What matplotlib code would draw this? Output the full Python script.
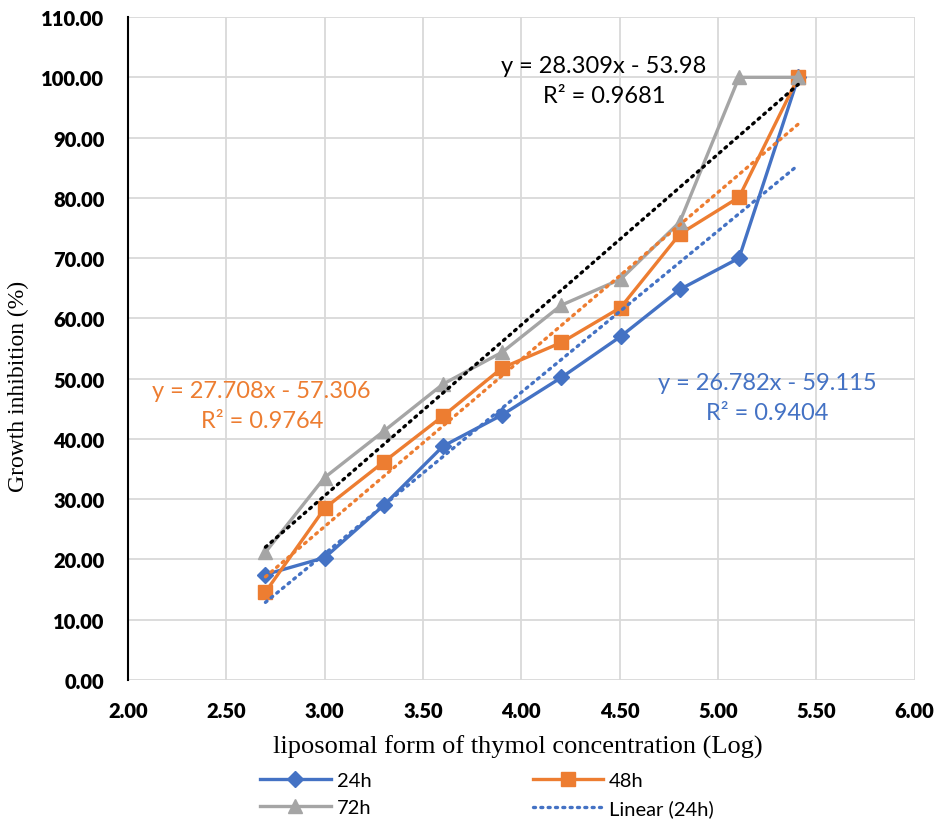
import matplotlib
matplotlib.use("Agg")
import matplotlib.pyplot as plt
from matplotlib.ticker import FormatStrFormatter
import numpy as np

# log concentration of liposomal thymol
log_conc = [2.699, 3.000, 3.301, 3.602, 3.903, 4.204, 4.505, 4.806, 5.107, 5.408]

inh_24h = [17.5, 20.3, 29.0, 38.8, 44.0, 50.2, 57.0, 64.8, 70.0, 100.0]
inh_48h = [14.6, 28.5, 36.2, 43.8, 51.8, 56.0, 61.8, 74.0, 80.1, 100.0]
inh_72h = [21.2, 33.6, 41.3, 49.1, 54.4, 62.2, 66.5, 76.0, 100.0, 100.0]

series_names = ['24h', '48h', '72h']
eq_texts = ['y = 26.782x - 59.115\nR² = 0.9404',
            'y = 27.708x - 57.306\nR² = 0.9764',
            'y = 28.309x - 53.98\nR² = 0.9681']

BLUE = '#4472C4'
ORANGE = '#ED7D31'
GREY = '#A5A5A5'

fig = plt.figure(figsize=(9.41, 8.2), dpi=100)
ax = fig.add_axes([0.136, 0.1695, 0.836, 0.8085])

x = np.array(log_conc)
series = [inh_24h, inh_48h, inh_72h]
colors = [BLUE, ORANGE, GREY]
markers = ['D', 's', '^']
msizes = [8.5, 10.5, 10.5]
trend_colors = [BLUE, ORANGE, 'black']

handles = []
for ys, c, m, ms, name in zip(series, colors, markers, msizes, series_names):
    h, = ax.plot(x, ys, color=c, lw=2.4, marker=m, ms=ms, label=name, zorder=3)
    handles.append(h)

trend_handles = []
for ys, tc, name in zip(series, trend_colors, series_names):
    k, b = np.polyfit(x, ys, 1)
    xx = np.array([x[0], x[-1]])
    h, = ax.plot(xx, k * xx + b, color=tc, lw=2.4, linestyle=(0, (0.6, 1.6)),
                 dash_capstyle='round', label=f'Linear ({name})', zorder=4)
    trend_handles.append(h)

# trendline equations
eq_font = dict(family='Lato', fontsize=17, ha='center', va='center', linespacing=1.55)
ax.text(5.25, 46.9, eq_texts[0], color=BLUE, **eq_font)
ax.text(2.68, 45.6, eq_texts[1], color=ORANGE, **eq_font)
ax.text(4.42, 99.5, eq_texts[2], color='black', **eq_font)

ax.set_xlim(2.0, 6.0)
ax.set_ylim(0, 110)
ax.set_xticks(np.arange(2.0, 6.01, 0.5))
ax.set_yticks(np.arange(0, 110.1, 10))
ax.xaxis.set_major_formatter(FormatStrFormatter('%.2f'))
ax.yaxis.set_major_formatter(FormatStrFormatter('%.2f'))
ax.grid(True, color='#D9D9D9', lw=1.3)
ax.set_axisbelow(True)
for s in ['top', 'right', 'bottom']:
    ax.spines[s].set_visible(False)
ax.spines['left'].set_color('black')
ax.spines['left'].set_linewidth(1.5)
ax.tick_params(axis='y', length=0, pad=17)
ax.tick_params(axis='x', length=0, pad=15)
for lab in ax.get_xticklabels() + ax.get_yticklabels():
    lab.set_fontfamily('Lato')
    lab.set_fontweight('heavy')
    lab.set_fontsize(14.5)

ax.set_xlabel('liposomal form of thymol concentration (Log)', family='Liberation Serif',
              fontsize=19)
ax.xaxis.set_label_coords(0.495, -0.083)
ax.set_ylabel('Growth inhibition (%)', family='Liberation Serif', fontsize=17)
ax.yaxis.set_label_coords(-0.126, 0.445)

# Excel fills legend row-wise: 24h, 48h / 72h, Linear (24h)
leg = fig.legend(handles=[handles[0], handles[2], handles[1], trend_handles[0]],
                 loc='upper left', bbox_to_anchor=(0.268, 0.067), ncol=2,
                 frameon=False, prop={'family': 'Lato', 'size': 14.5},
                 handlelength=3.5, handletextpad=0.3, columnspacing=8.0,
                 labelspacing=0.5, borderaxespad=0)

fig.savefig('out.png', dpi=100, facecolor='white')
